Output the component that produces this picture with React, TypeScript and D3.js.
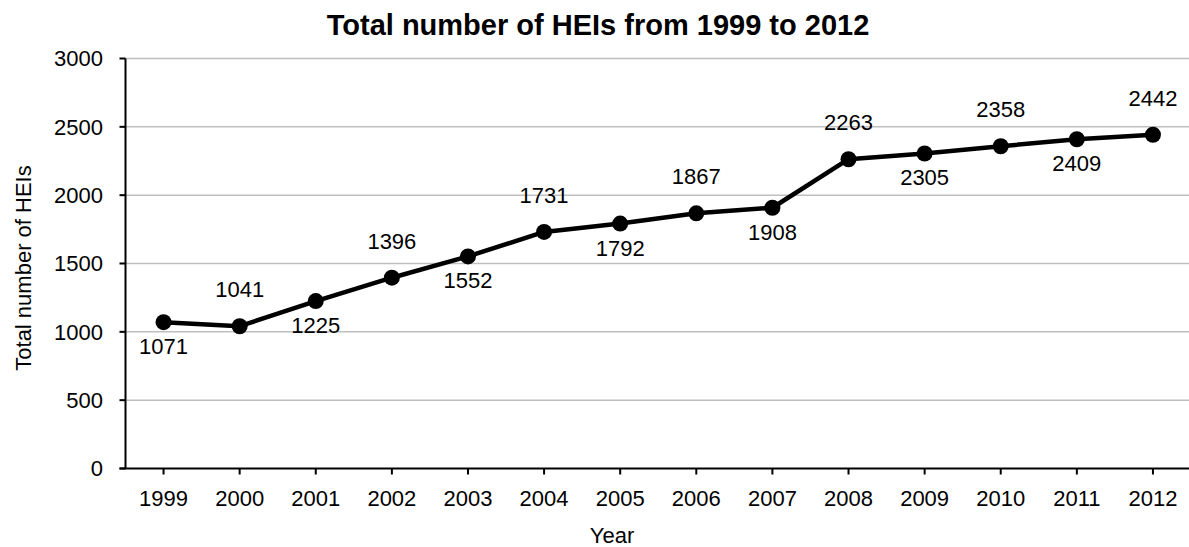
import React from "react";
import * as d3 from "d3";

const years = ["1999","2000","2001","2002","2003","2004","2005","2006","2007","2008","2009","2010","2011","2012"];
const values = [1071,1041,1225,1396,1552,1731,1792,1867,1908,2263,2305,2358,2409,2442];
const labelPos = ["below","above","below","above","below","above","below","above","below","above","below","above","below","above"];
const yTicks = [0,500,1000,1500,2000,2500,3000];

export default function App() {
  const W = 1189, H = 547;
  const left = 125.5, right = 1191, top = 58.5, bottom = 468.5;
  const x = d3.scaleBand().domain(years).range([left, right]);
  const y = d3.scaleLinear().domain([0, 3000]).range([bottom, top]);
  const cx = (d: string) => (x(d) as number) + x.bandwidth() / 2;
  const line = d3.line<number>().x((_, i) => cx(years[i])).y(v => y(v));
  const font = "Arial, 'Liberation Sans', sans-serif";
  return (
    <svg width={W} height={H} style={{ position: "absolute", left: 0, top: 0, fontFamily: font }}>
      <rect width={W} height={H} fill="#fff" />
      <text x={598} y={35} textAnchor="middle" fontSize={29} fontWeight="bold">Total number of HEIs from 1999 to 2012</text>
      {yTicks.map(t => (
        <g key={t}>
          {t > 0 && <line x1={left} x2={right} y1={y(t)} y2={y(t)} stroke="#bfbfbf" strokeWidth={1.5} />}
          <line x1={left - 6} x2={left} y1={y(t)} y2={y(t)} stroke="#000" strokeWidth={2} />
          <text x={103} y={y(t)} dy="0.36em" textAnchor="end" fontSize={22}>{t}</text>
        </g>
      ))}
      <line x1={left} x2={left} y1={top} y2={bottom} stroke="#000" strokeWidth={2} />
      <line x1={left - 6} x2={right} y1={bottom} y2={bottom} stroke="#000" strokeWidth={2} />
      {years.map(yr => (
        <g key={yr}>
          <line x1={cx(yr)} x2={cx(yr)} y1={bottom} y2={bottom + 6} stroke="#000" strokeWidth={2} />
          <text x={cx(yr)} y={506} textAnchor="middle" fontSize={22}>{yr}</text>
        </g>
      ))}
      <text x={612} y={543} textAnchor="middle" fontSize={22}>Year</text>
      <text transform={`translate(31,268) rotate(-90)`} textAnchor="middle" fontSize={22}>Total number of HEIs</text>
      <path d={line(values) || ""} fill="none" stroke="#000" strokeWidth={4.5} strokeLinejoin="round" />
      {values.map((v, i) => (
        <g key={i}>
          <circle cx={cx(years[i])} cy={y(v)} r={8} fill="#000" />
          <text x={cx(years[i])} y={labelPos[i] === "above" ? y(v) - 29 : y(v) + 32} textAnchor="middle" fontSize={22}>{v}</text>
        </g>
      ))}
    </svg>
  );
}
